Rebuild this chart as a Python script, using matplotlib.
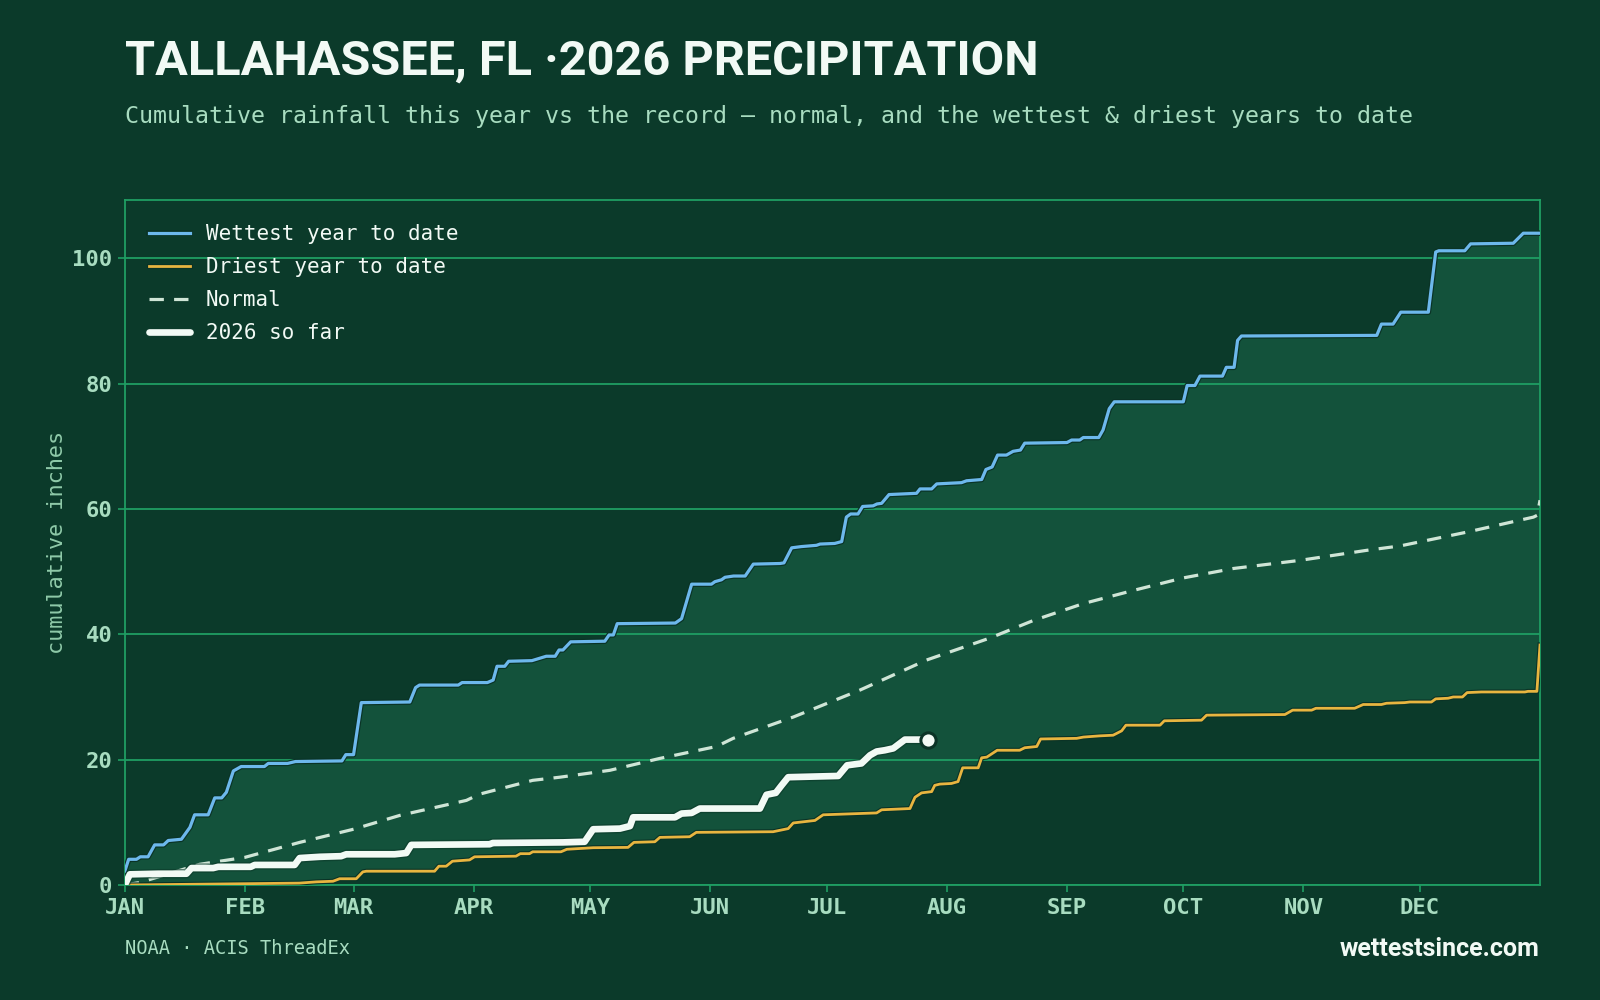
# Tallahassee cumulative precipitation, 2026 vs record envelope

import numpy as np
import matplotlib
matplotlib.use("Agg")
import matplotlib.pyplot as plt
import matplotlib.patheffects as pe

# %% data (day of year from Jan 1, cumulative inches)

wet_day = [0, 1, 3, 4, 6, 7.7, 10, 11.2, 14.6, 16.8, 18, 21.5, 23.2, 25, 26.2, 28, 30, 36, 37, 42,
           44, 56, 57, 59, 61, 73.5, 75, 76, 86, 87, 93.5, 95, 96, 98, 99, 105, 108.7, 111, 112, 113,
           115, 123.8, 124.9, 126, 127, 142, 143.6, 146.2, 151.3, 152.2, 153.9, 154.8, 157, 160, 162.1, 169, 170, 172, 174.5, 178.4,
           179.3, 183.1, 184.9, 186.1, 187.2, 189.1, 190.3, 193, 194, 195.2, 197.1, 204.2, 205.1, 208.1, 209.4, 215.8, 217.1, 221, 222.1, 223.7,
           225.1, 227.4, 229.1, 231, 232.1, 243, 244.2, 246.3, 247.2, 251.2, 252.3, 253.9, 255.2, 273, 274, 276, 277.3, 283.1, 284.1, 286.1,
           287, 288, 322.9, 324.1, 327.1, 329.1, 336.2, 338.1, 338.9, 345.6, 347.1, 358.1, 360.7, 365]
wet_val = [2.2, 4.1, 4.1, 4.5, 4.5, 6.4, 6.4, 7.1, 7.3, 9.2, 11.2, 11.2, 13.9, 13.9, 14.8, 18.2, 18.9, 18.9, 19.4, 19.4,
           19.7, 19.8, 20.8, 20.8, 29.1, 29.2, 31.5, 31.9, 31.9, 32.3, 32.3, 32.7, 34.9, 34.9, 35.7, 35.8, 36.5, 36.5, 37.5, 37.5,
           38.8, 38.9, 39.9, 39.9, 41.7, 41.8, 42.5, 48.0, 48.0, 48.4, 48.7, 49.1, 49.3, 49.3, 51.2, 51.3, 51.4, 53.8, 54.0, 54.2,
           54.4, 54.5, 54.8, 58.7, 59.2, 59.2, 60.4, 60.5, 60.8, 60.9, 62.3, 62.5, 63.2, 63.2, 64.0, 64.2, 64.5, 64.7, 66.3, 66.7,
           68.6, 68.6, 69.2, 69.4, 70.5, 70.6, 71.0, 71.0, 71.4, 71.4, 72.6, 76.0, 77.1, 77.1, 79.7, 79.7, 81.2, 81.2, 82.6, 82.6,
           86.9, 87.6, 87.7, 89.5, 89.5, 91.4, 91.4, 101.0, 101.2, 101.2, 102.3, 102.4, 104.0, 104.0]

dry_day = [0, 30, 45, 49.4, 53.7, 55.4, 59.7, 61.4, 62.3, 79.9, 81, 82.9, 84.5, 88.9, 90.2, 100.9, 102, 104.4, 105.2, 112.5,
           114, 120.8, 129.8, 131.3, 136.7, 138, 145.7, 147.4, 167.2, 171.1, 172.4, 178, 180.1, 193.9, 195.2, 202.5, 203.8, 205.5, 208.1, 208.9,
           210.2, 213.2, 214.9, 216.1, 220.1, 221, 222.3, 225, 230.8, 232.1, 235.2, 236.2, 245.5, 247.2, 251.5, 254.9, 257.1, 258.2, 267, 268.1,
           277.7, 279, 299.2, 301.2, 306.1, 307.2, 317.2, 319.4, 324.1, 325.4, 330.1, 331.4, 337, 338.1, 341.3, 342.6, 345, 346.2, 349.9, 361.1,
           361.9, 364.2, 365]
dry_val = [0, 0.2, 0.3, 0.5, 0.6, 1.0, 1.0, 2.1, 2.2, 2.2, 3.0, 3.0, 3.8, 4.0, 4.5, 4.6, 5.0, 5.0, 5.3, 5.3,
           5.7, 5.95, 6.0, 6.8, 6.9, 7.6, 7.7, 8.4, 8.5, 9.0, 9.9, 10.3, 11.2, 11.5, 12.0, 12.2, 14.0, 14.7, 14.9, 15.9,
           16.1, 16.2, 16.5, 18.7, 18.7, 20.3, 20.4, 21.5, 21.5, 21.9, 22.1, 23.3, 23.4, 23.6, 23.8, 23.9, 24.6, 25.5, 25.5, 26.2,
           26.3, 27.1, 27.2, 27.9, 27.9, 28.2, 28.2, 28.8, 28.8, 29.0, 29.1, 29.2, 29.2, 29.7, 29.8, 30.0, 30.0, 30.7, 30.8, 30.8,
           30.9, 30.9, 38.3]

norm_day = [0, 3.9, 19.3, 30.9, 45.1, 59, 70.9, 88.1, 91.5, 105.2, 112.2, 125.1, 138, 152.6, 156.9, 172.4,
            189.6, 206.8, 223.1, 234.3, 247.2, 260.1, 273, 285.9, 303.1, 320.3, 328.9, 346.1, 363.3, 364.3, 365]
norm_val = [0, 0.4, 3.3, 4.4, 6.8, 8.9, 11.1, 13.5, 14.5, 16.7, 17.2, 18.3, 20.2, 22.1, 23.4, 26.8,
            31.1, 35.9, 39.4, 42.2, 44.9, 47.0, 49.0, 50.5, 51.8, 53.4, 54.1, 56.3, 58.7, 59.0, 61.4]

ytd_day = [0, 1.3, 8.6, 15.9, 17.2, 22.8, 24.1, 32.5, 33.5, 43.8, 45.1, 50.3, 55.8, 57.1, 69.6, 72.6, 73.9, 94.1, 94.9, 113,
           118.6, 120.8, 127.7, 130.3, 131.1, 141.9, 143.6, 146.2, 148.3, 163.8, 165.5, 167.9, 169.4, 171.1, 184, 186.3, 190, 192.2, 193.9, 196,
           198.2, 201.2, 207.2]
ytd_val = [0, 1.7, 1.8, 1.8, 2.7, 2.7, 2.9, 2.9, 3.2, 3.2, 4.3, 4.5, 4.6, 4.9, 4.9, 5.1, 6.4, 6.5, 6.7, 6.8,
           6.9, 8.9, 9.0, 9.4, 10.8, 10.8, 11.4, 11.5, 12.2, 12.2, 14.4, 14.7, 15.9, 17.2, 17.4, 19.1, 19.4, 20.7, 21.3, 21.5,
           21.8, 23.2, 23.2]

month_start = [0, 31, 59, 90, 120, 151, 181, 212, 243, 273, 304, 334]
month_lab = ["JAN", "FEB", "MAR", "APR", "MAY", "JUN", "JUL", "AUG", "SEP", "OCT", "NOV", "DEC"]

# %% style

BG = "#0b3a2a"
BAND = "#13523b"
GRID = "#1f9e63"
MINT = "#a8dcc0"
WHITE = "#f2faf5"
MONO = ["DejaVu Sans Mono"]
HEAD = ["Roboto", "DejaVu Sans"]

fig = plt.figure(figsize=(16, 10), dpi=100, facecolor=BG)
ax = fig.add_axes([0.078, 0.115, 0.8845, 0.685], facecolor=BG)

# band between driest and wettest
ax.fill(np.concatenate([wet_day, dry_day[::-1]]), np.concatenate([wet_val, dry_val[::-1]]),
        color=BAND, lw=0, zorder=1)

for y in range(0, 101, 20):
    ax.axhline(y, color=GRID, lw=1.3, zorder=2)

edge = [pe.Stroke(linewidth=4.0, foreground="#0a3326"), pe.Normal()]
ax.plot(wet_day, wet_val, color="#6db8ec", lw=2.3, zorder=4, label="Wettest year to date",
        path_effects=edge)
ax.plot(dry_day, dry_val, color="#e8b540", lw=2.0, zorder=4, label="Driest year to date",
        path_effects=[pe.Stroke(linewidth=3.6, foreground="#0a3326"), pe.Normal()])
ax.plot(norm_day, norm_val, color="#cfe5d6", lw=2.3, dashes=(4.5, 3.2), zorder=3, label="Normal")
ax.plot(ytd_day, ytd_val, color=WHITE, lw=4.8, zorder=5, label="2026 so far",
        solid_capstyle="round", solid_joinstyle="round",
        path_effects=[pe.Stroke(linewidth=6.8, foreground="#0b3a2a", alpha=0.6), pe.Normal()])
ax.plot(ytd_day[-1], ytd_val[-1], "o", ms=11, mfc=WHITE, mec="#0a3326", mew=2.2, zorder=6)

ax.set_xlim(0, 365)
ax.set_ylim(0, 109.3)
ax.set_xticks(month_start)
ax.set_xticklabels(month_lab)
ax.set_yticks(range(0, 101, 20))
for s in ax.spines.values():
    s.set_color(GRID)
    s.set_linewidth(1.3)
ax.tick_params(colors=GRID, length=5, width=1.2, pad=4)
for lab in ax.get_xticklabels() + ax.get_yticklabels():
    lab.set_family(MONO)
    lab.set_fontweight("bold")
    lab.set_fontsize(16)
    lab.set_color(MINT)
ax.set_ylabel("cumulative inches", family=MONO, fontsize=15.7, color="#8fcaa9", labelpad=4)

leg = ax.legend(loc="upper left", bbox_to_anchor=(0.0, 1.0), frameon=False,
                prop={"family": MONO, "size": 15}, handlelength=2.0, handletextpad=0.75,
                labelspacing=0.63, borderaxespad=0.75)
for t in leg.get_texts():
    t.set_color(WHITE)

fig.text(0.078, 0.938, "TALLAHASSEE, FL \u00b72026 PRECIPITATION", family=HEAD,
         fontweight="bold", fontsize=35, color=WHITE, va="center", ha="left")
fig.text(0.078, 0.884, "Cumulative rainfall this year vs the record \u2014 normal, and the wettest & driest years to date",
         family=MONO, fontsize=16.75, color=MINT, va="center", ha="left")
fig.text(0.078, 0.051, "NOAA \u00b7 ACIS ThreadEx", family=MONO, fontsize=13.5, color=MINT,
         va="center", ha="left")
fig.text(0.9625, 0.051, "wettestsince.com", family=HEAD, fontweight="bold",
         fontsize=18, color=WHITE, va="center", ha="right")

fig.savefig("out.png", dpi=100, facecolor=BG)
